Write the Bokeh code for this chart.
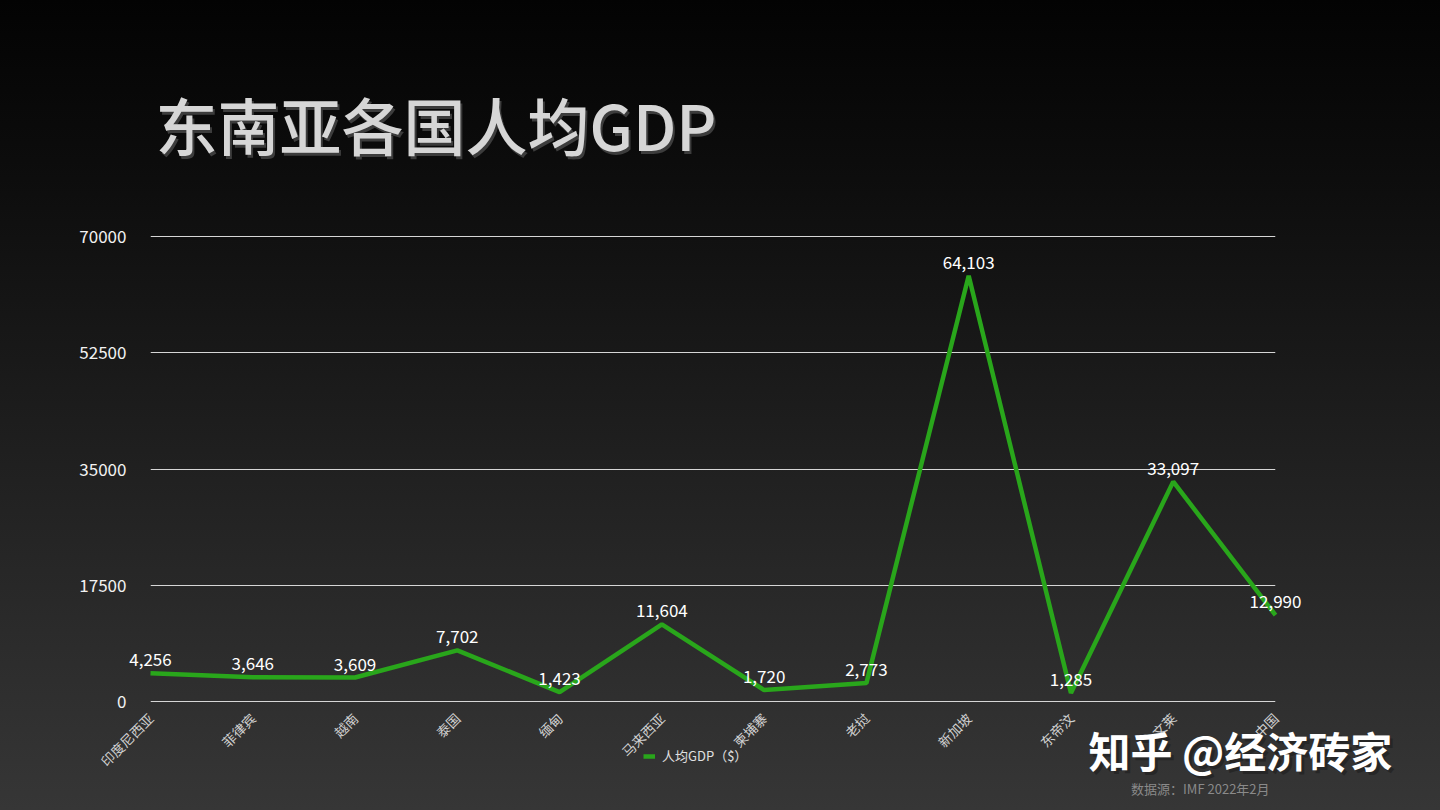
import math
from bokeh.plotting import figure
from bokeh.layouts import column
from bokeh.models import (ColumnDataSource, FixedTicker, Range1d, Label, LabelSet,
                          Legend, LegendItem)
from bokeh.core.properties import value
from bokeh.embed import file_html
from bokeh.resources import INLINE

# ---- data ----
countries = ["印度尼西亚", "菲律宾", "越南", "泰国", "缅甸", "马来西亚",
             "柬埔寨", "老挝", "新加坡", "东帝汶", "文莱", "中国"]
gdp_per_capita = [4256, 3646, 3609, 7702, 1423, 11604, 1720, 2773, 64103, 1285, 33097, 12990]
y_ticks = [0, 17500, 35000, 52500, 70000]
series_name = "人均GDP（$）"
title_text = "东南亚各国人均GDP"
source_note = "数据源：IMF  2022年2月"
watermark = "知乎 @经济砖家"

FONT = "Noto Sans CJK SC"
TITLE_FONT = "'Noto Sans CJK SC Medium', 'Noto Sans CJK SC'"
GREEN = "#29a61b"

# ---- layout geometry (page pixels) ----
W, H = 1440, 810
FL, FR, FT, FB = 150, 1275, 236, 701          # plot area: first/last category, top/bottom tick
n = len(countries)
ymax = y_ticks[-1]
px_per_x = (FR - FL) / (n - 1)
px_per_y = (FB - FT) / ymax
pad = 2  # px so that the edge gridlines are not clipped

idx = list(range(n))
src = ColumnDataSource(dict(idx=idx, gdp=gdp_per_capita,
                            lbl=[f"{v:,}" for v in gdp_per_capita]))

FIXED = {"position": "fixed", "top": "0px", "left": "0px"}

# ---------- main figure: axes and grid ----------
main = figure(width=W, height=H, output_backend="svg", toolbar_location=None,
              x_range=Range1d(0, n - 1),
              y_range=Range1d(-pad / px_per_y, ymax + pad / px_per_y),
              min_border_left=FL, min_border_right=W - FR,
              min_border_top=FT - pad, min_border_bottom=H - FB - pad)
main.frame_align = False
main.styles = dict(FIXED, background="linear-gradient(to bottom, #030303 0%, #0d0d0d 22%, #1c1c1c 50%, #2b2b2b 78%, #363636 100%)")
main.background_fill_color = None
main.border_fill_color = None
main.outline_line_color = None

main.yaxis.ticker = FixedTicker(ticks=y_ticks)
main.yaxis.axis_line_color = None
main.yaxis.major_tick_line_color = None
main.yaxis.minor_tick_line_color = None
main.yaxis.major_label_text_color = "#f2f2f2"
main.yaxis.major_label_text_font = FONT
main.yaxis.major_label_text_font_size = "17px"
main.yaxis.major_label_standoff = 16 + pad

main.xaxis.ticker = FixedTicker(ticks=idx)
main.xaxis.major_label_overrides = {i: c for i, c in zip(idx, countries)}
main.xaxis.major_label_orientation = math.pi / 4
main.xaxis.axis_line_color = None
main.xaxis.major_tick_line_color = None
main.xaxis.minor_tick_line_color = None
main.xaxis.major_label_text_color = "#d0d0d0"
main.xaxis.major_label_text_font = FONT
main.xaxis.major_label_text_font_size = "13.5px"
main.xaxis.major_label_standoff = 6

main.xgrid.visible = False
main.ygrid.ticker = FixedTicker(ticks=y_ticks)
main.ygrid.grid_line_color = "#d6d6d6"
main.ygrid.grid_line_width = 1

# ---------- overlay figure: whole page is the frame, same data scales ----------
ov = figure(width=W, height=H, output_backend="svg", toolbar_location=None,
            title=None, x_axis_type=None, y_axis_type=None, min_border=0,
            x_range=Range1d(-FL / px_per_x, (n - 1) + (W - FR) / px_per_x),
            y_range=Range1d(-(H - FB) / px_per_y, ymax + FT / px_per_y))
ov.frame_align = False
ov.styles = dict(FIXED)
ov.background_fill_color = None
ov.border_fill_color = None
ov.outline_line_color = None
ov.grid.visible = False

r = ov.line(x="idx", y="gdp", source=src, line_color=GREEN, line_width=4.5)

ov.add_layout(LabelSet(x="idx", y="gdp", text="lbl", source=src, text_align="center",
                       text_baseline="alphabetic", y_offset=7,
                       text_color="#ffffff", text_font=value(FONT),
                       text_font_size=value("17px")))

ov.add_layout(Legend(items=[LegendItem(label=series_name, renderers=[r])],
                     location=(643, H - 765), orientation="horizontal",
                     background_fill_alpha=0, border_line_alpha=0,
                     label_text_color="#e0e0e0", label_text_font=FONT,
                     label_text_font_size="13px", glyph_width=12, glyph_height=14,
                     padding=0, margin=0, label_standoff=7), "center")


def page_label(x, y_mid, text, font=FONT, **kw):
    """Text placed at page pixel x (left/right edge) and vertical centre y_mid."""
    ov.add_layout(Label(x=x, y=H - y_mid, x_units="screen", y_units="screen", text=text,
                        text_font=font, text_baseline="middle", **kw))


# title with a soft shadow
page_label(157, 126, title_text, font=TITLE_FONT, text_font_size="62px",
           text_color="#3c3c3c")
page_label(155, 123, title_text, font=TITLE_FONT, text_font_size="62px",
           text_color="#d6d6d6")

# watermark
page_label(1091, 752, watermark, text_font_size="42px", text_font_style="bold",
           text_color="#262626")
page_label(1088, 749, watermark, text_font_size="42px", text_font_style="bold",
           text_color="#ffffff")

# source note
page_label(1272, 788, source_note, text_font_size="13px", text_color="#8a8a8a",
           text_align="right")

p = column(main, ov)
open("out.html", "w").write(file_html(p, INLINE))
